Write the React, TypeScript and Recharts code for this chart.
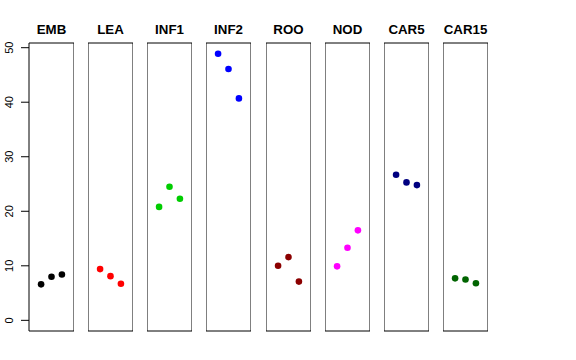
import React from 'react';
import { ScatterChart, Scatter, XAxis, YAxis, ReferenceArea } from 'recharts';

const panelNames = ['EMB', 'LEA', 'INF1', 'INF2', 'ROO', 'NOD', 'CAR5', 'CAR15'];
const panelColors = ['#000000', '#FF0000', '#00CD00', '#0000FF', '#8B0000', '#FF00FF', '#000080', '#006400'];
const positions = [1, 2, 3];
const embValues = [6.6, 8.0, 8.4];
const leaValues = [9.4, 8.1, 6.7];
const inf1Values = [20.8, 24.5, 22.3];
const inf2Values = [48.9, 46.1, 40.7];
const rooValues = [10.0, 11.6, 7.1];
const nodValues = [9.9, 13.3, 16.5];
const car5Values = [26.7, 25.3, 24.8];
const car15Values = [7.7, 7.5, 6.8];
const yTicks = [0, 10, 20, 30, 40, 50];

const allValues = [embValues, leaValues, inf1Values, inf2Values, rooValues, nodValues, car5Values, car15Values];

const X_DOMAIN: [number, number] = [-0.16, 4.16];
const Y_DOMAIN: [number, number] = [-1.956, 50.86];
const FONT = '"Liberation Sans", Arial, Helvetica, sans-serif';

const PLOT_W = 45;
const AXIS_W = 29;
const H = 360;
const MARGIN = { top: 43, bottom: 29, left: 0, right: 0 };
const STEP = 59.14;

const RotTick = (props: any) => {
  const { y, payload } = props;
  const bx = 13.5;
  return (
    <text
      x={bx}
      y={y}
      transform={`rotate(-90, ${bx}, ${y})`}
      textAnchor="middle"
      fontSize={11}
      fontFamily={FONT}
      fill="#000"
    >
      {payload.value}
    </text>
  );
};

function Panel({ idx }: { idx: number }) {
  const first = idx === 0;
  const data = positions.map((p, k) => ({ x: p, y: allValues[idx][k] }));
  const color = panelColors[idx];
  const width = first ? AXIS_W + PLOT_W : PLOT_W;
  const left = first ? 0 : AXIS_W + idx * STEP;
  return (
    <div style={{ position: 'absolute', left, top: 0, width, height: H }}>
      <ScatterChart width={width} height={H} margin={MARGIN} style={{ overflow: 'visible' }}>
        <XAxis type="number" dataKey="x" domain={X_DOMAIN} hide allowDataOverflow />
        <YAxis
          type="number"
          dataKey="y"
          domain={Y_DOMAIN}
          allowDataOverflow
          hide={!first}
          width={AXIS_W}
          ticks={yTicks}
          interval={0}
          tickSize={8}
          tickLine={{ stroke: '#000' }}
          axisLine={false}
          tick={<RotTick />}
        />
        <ReferenceArea
          x1={X_DOMAIN[0]}
          x2={X_DOMAIN[1]}
          y1={Y_DOMAIN[0]}
          y2={Y_DOMAIN[1]}
          fill="none"
          fillOpacity={0}
          stroke="#000"
          strokeWidth={1}
          ifOverflow="visible"
          label={{
            value: panelNames[idx],
            position: 'top',
            offset: 9,
            fontWeight: 'bold',
            fontSize: 13.3,
            fontFamily: FONT,
            fill: '#000',
          }}
        />
        <Scatter
          data={data}
          isAnimationActive={false}
          shape={(p: any) => <circle cx={p.cx} cy={p.cy} r={3.3} fill={color} />}
        />
      </ScatterChart>
    </div>
  );
}

export default function App() {
  return (
    <div style={{ position: 'absolute', left: 0, top: 0, width: 576, height: 360, background: '#fff' }}>
      {panelNames.map((_, i) => (
        <Panel key={i} idx={i} />
      ))}
    </div>
  );
}
